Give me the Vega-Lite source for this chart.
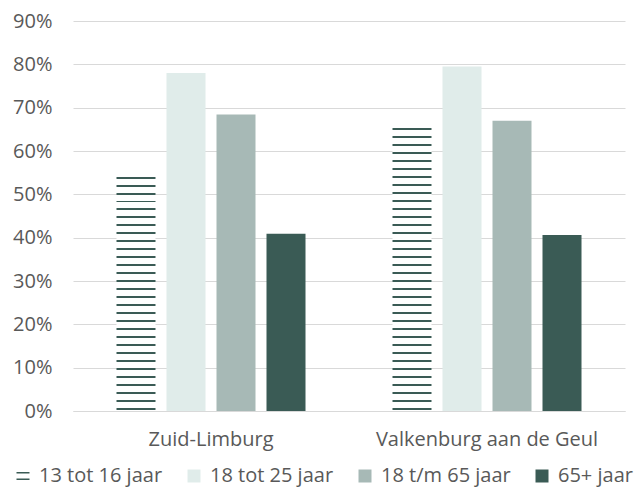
{
  "$schema": "https://vega.github.io/schema/vega-lite/v6.json",
  "width": 552,
  "height": 390,
  "autosize": "none",
  "padding": {"left": 73, "top": 21, "right": 16, "bottom": 82},
  "background": "#ffffff",
  "config": {
    "view": {"stroke": null},
    "font": "Open Sans"
  },
  "data": {
    "values": [
      {"region": "Zuid-Limburg", "age": "13 tot 16 jaar", "value": 0.552},
      {"region": "Zuid-Limburg", "age": "18 tot 25 jaar", "value": 0.780},
      {"region": "Zuid-Limburg", "age": "18 t/m 65 jaar", "value": 0.684},
      {"region": "Zuid-Limburg", "age": "65+ jaar", "value": 0.409},
      {"region": "Valkenburg aan de Geul", "age": "13 tot 16 jaar", "value": 0.663},
      {"region": "Valkenburg aan de Geul", "age": "18 tot 25 jaar", "value": 0.795},
      {"region": "Valkenburg aan de Geul", "age": "18 t/m 65 jaar", "value": 0.670},
      {"region": "Valkenburg aan de Geul", "age": "65+ jaar", "value": 0.406}
    ]
  },
  "mark": {"type": "bar", "strokeWidth": 0},
  "encoding": {
    "x": {
      "field": "region", "type": "nominal",
      "sort": ["Zuid-Limburg", "Valkenburg aan de Geul"],
      "scale": {"paddingInner": 0, "paddingOuter": 0},
      "axis": {
        "title": null, "labelAngle": 0, "ticks": false, "domain": true,
        "domainColor": "#d9d9d9", "domainWidth": 1, "labelLimit": 400,
        "labelFontSize": 20, "labelColor": "#595959", "labelPadding": 18, "labelFont": "Open Sans"
      }
    },
    "xOffset": {
      "field": "age", "type": "nominal",
      "sort": ["13 tot 16 jaar", "18 tot 25 jaar", "18 t/m 65 jaar", "65+ jaar"],
      "scale": {"paddingInner": 0.22, "paddingOuter": 0.87}
    },
    "y": {
      "field": "value", "type": "quantitative",
      "scale": {"domain": [0, 0.9], "nice": false},
      "axis": {
        "title": null, "format": ".0%", "values": [0, 0.1, 0.2, 0.3, 0.4, 0.5, 0.6, 0.7, 0.8, 0.9],
        "ticks": false, "domain": false, "gridColor": "#d9d9d9", "gridWidth": 1,
        "labelFontSize": 20, "labelColor": "#595959", "labelPadding": 21, "labelFont": "Open Sans"
      }
    },
    "fill": {
      "condition": [
        {"test": "datum.age === '13 tot 16 jaar' && datum.region === 'Zuid-Limburg'",
         "value": {"gradient": "linear", "x1": 0, "y1": 0, "x2": 0, "y2": 1, "stops": [
          {"offset": 0, "color": "#ffffff"},
          {"offset": 0.0200, "color": "#ffffff"}, {"offset": 0.0200, "color": "#3a5b55"}, {"offset": 0.0283, "color": "#3a5b55"}, {"offset": 0.0283, "color": "#ffffff"},
          {"offset": 0.0533, "color": "#ffffff"}, {"offset": 0.0533, "color": "#3a5b55"}, {"offset": 0.0617, "color": "#3a5b55"}, {"offset": 0.0617, "color": "#ffffff"},
          {"offset": 0.0867, "color": "#ffffff"}, {"offset": 0.0867, "color": "#3a5b55"}, {"offset": 0.0950, "color": "#3a5b55"}, {"offset": 0.0950, "color": "#ffffff"},
          {"offset": 0.1200, "color": "#ffffff"}, {"offset": 0.1200, "color": "#3a5b55"}, {"offset": 0.1283, "color": "#3a5b55"}, {"offset": 0.1283, "color": "#ffffff"},
          {"offset": 0.1533, "color": "#ffffff"}, {"offset": 0.1533, "color": "#3a5b55"}, {"offset": 0.1617, "color": "#3a5b55"}, {"offset": 0.1617, "color": "#ffffff"},
          {"offset": 0.1867, "color": "#ffffff"}, {"offset": 0.1867, "color": "#3a5b55"}, {"offset": 0.1950, "color": "#3a5b55"}, {"offset": 0.1950, "color": "#ffffff"},
          {"offset": 0.2200, "color": "#ffffff"}, {"offset": 0.2200, "color": "#3a5b55"}, {"offset": 0.2283, "color": "#3a5b55"}, {"offset": 0.2283, "color": "#ffffff"},
          {"offset": 0.2533, "color": "#ffffff"}, {"offset": 0.2533, "color": "#3a5b55"}, {"offset": 0.2617, "color": "#3a5b55"}, {"offset": 0.2617, "color": "#ffffff"},
          {"offset": 0.2867, "color": "#ffffff"}, {"offset": 0.2867, "color": "#3a5b55"}, {"offset": 0.2950, "color": "#3a5b55"}, {"offset": 0.2950, "color": "#ffffff"},
          {"offset": 0.3200, "color": "#ffffff"}, {"offset": 0.3200, "color": "#3a5b55"}, {"offset": 0.3283, "color": "#3a5b55"}, {"offset": 0.3283, "color": "#ffffff"},
          {"offset": 0.3533, "color": "#ffffff"}, {"offset": 0.3533, "color": "#3a5b55"}, {"offset": 0.3617, "color": "#3a5b55"}, {"offset": 0.3617, "color": "#ffffff"},
          {"offset": 0.3867, "color": "#ffffff"}, {"offset": 0.3867, "color": "#3a5b55"}, {"offset": 0.3950, "color": "#3a5b55"}, {"offset": 0.3950, "color": "#ffffff"},
          {"offset": 0.4200, "color": "#ffffff"}, {"offset": 0.4200, "color": "#3a5b55"}, {"offset": 0.4283, "color": "#3a5b55"}, {"offset": 0.4283, "color": "#ffffff"},
          {"offset": 0.4533, "color": "#ffffff"}, {"offset": 0.4533, "color": "#3a5b55"}, {"offset": 0.4617, "color": "#3a5b55"}, {"offset": 0.4617, "color": "#ffffff"},
          {"offset": 0.4867, "color": "#ffffff"}, {"offset": 0.4867, "color": "#3a5b55"}, {"offset": 0.4950, "color": "#3a5b55"}, {"offset": 0.4950, "color": "#ffffff"},
          {"offset": 0.5200, "color": "#ffffff"}, {"offset": 0.5200, "color": "#3a5b55"}, {"offset": 0.5283, "color": "#3a5b55"}, {"offset": 0.5283, "color": "#ffffff"},
          {"offset": 0.5533, "color": "#ffffff"}, {"offset": 0.5533, "color": "#3a5b55"}, {"offset": 0.5617, "color": "#3a5b55"}, {"offset": 0.5617, "color": "#ffffff"},
          {"offset": 0.5867, "color": "#ffffff"}, {"offset": 0.5867, "color": "#3a5b55"}, {"offset": 0.5950, "color": "#3a5b55"}, {"offset": 0.5950, "color": "#ffffff"},
          {"offset": 0.6200, "color": "#ffffff"}, {"offset": 0.6200, "color": "#3a5b55"}, {"offset": 0.6283, "color": "#3a5b55"}, {"offset": 0.6283, "color": "#ffffff"},
          {"offset": 0.6533, "color": "#ffffff"}, {"offset": 0.6533, "color": "#3a5b55"}, {"offset": 0.6617, "color": "#3a5b55"}, {"offset": 0.6617, "color": "#ffffff"},
          {"offset": 0.6867, "color": "#ffffff"}, {"offset": 0.6867, "color": "#3a5b55"}, {"offset": 0.6950, "color": "#3a5b55"}, {"offset": 0.6950, "color": "#ffffff"},
          {"offset": 0.7200, "color": "#ffffff"}, {"offset": 0.7200, "color": "#3a5b55"}, {"offset": 0.7283, "color": "#3a5b55"}, {"offset": 0.7283, "color": "#ffffff"},
          {"offset": 0.7533, "color": "#ffffff"}, {"offset": 0.7533, "color": "#3a5b55"}, {"offset": 0.7617, "color": "#3a5b55"}, {"offset": 0.7617, "color": "#ffffff"},
          {"offset": 0.7867, "color": "#ffffff"}, {"offset": 0.7867, "color": "#3a5b55"}, {"offset": 0.7950, "color": "#3a5b55"}, {"offset": 0.7950, "color": "#ffffff"},
          {"offset": 0.8200, "color": "#ffffff"}, {"offset": 0.8200, "color": "#3a5b55"}, {"offset": 0.8283, "color": "#3a5b55"}, {"offset": 0.8283, "color": "#ffffff"},
          {"offset": 0.8533, "color": "#ffffff"}, {"offset": 0.8533, "color": "#3a5b55"}, {"offset": 0.8617, "color": "#3a5b55"}, {"offset": 0.8617, "color": "#ffffff"},
          {"offset": 0.8867, "color": "#ffffff"}, {"offset": 0.8867, "color": "#3a5b55"}, {"offset": 0.8950, "color": "#3a5b55"}, {"offset": 0.8950, "color": "#ffffff"},
          {"offset": 0.9200, "color": "#ffffff"}, {"offset": 0.9200, "color": "#3a5b55"}, {"offset": 0.9283, "color": "#3a5b55"}, {"offset": 0.9283, "color": "#ffffff"},
          {"offset": 0.9533, "color": "#ffffff"}, {"offset": 0.9533, "color": "#3a5b55"}, {"offset": 0.9617, "color": "#3a5b55"}, {"offset": 0.9617, "color": "#ffffff"},
          {"offset": 0.9867, "color": "#ffffff"}, {"offset": 0.9867, "color": "#3a5b55"}, {"offset": 0.9950, "color": "#3a5b55"}, {"offset": 0.9950, "color": "#ffffff"},
          {"offset": 1, "color": "#ffffff"}
         ]}},
        {"test": "datum.age === '13 tot 16 jaar' && datum.region === 'Valkenburg aan de Geul'",
         "value": {"gradient": "linear", "x1": 0, "y1": 0, "x2": 0, "y2": 1, "stops": [
          {"offset": 0, "color": "#ffffff"},
          {"offset": 0.0167, "color": "#ffffff"}, {"offset": 0.0167, "color": "#3a5b55"}, {"offset": 0.0236, "color": "#3a5b55"}, {"offset": 0.0236, "color": "#ffffff"},
          {"offset": 0.0444, "color": "#ffffff"}, {"offset": 0.0444, "color": "#3a5b55"}, {"offset": 0.0514, "color": "#3a5b55"}, {"offset": 0.0514, "color": "#ffffff"},
          {"offset": 0.0722, "color": "#ffffff"}, {"offset": 0.0722, "color": "#3a5b55"}, {"offset": 0.0792, "color": "#3a5b55"}, {"offset": 0.0792, "color": "#ffffff"},
          {"offset": 0.1000, "color": "#ffffff"}, {"offset": 0.1000, "color": "#3a5b55"}, {"offset": 0.1069, "color": "#3a5b55"}, {"offset": 0.1069, "color": "#ffffff"},
          {"offset": 0.1278, "color": "#ffffff"}, {"offset": 0.1278, "color": "#3a5b55"}, {"offset": 0.1347, "color": "#3a5b55"}, {"offset": 0.1347, "color": "#ffffff"},
          {"offset": 0.1556, "color": "#ffffff"}, {"offset": 0.1556, "color": "#3a5b55"}, {"offset": 0.1625, "color": "#3a5b55"}, {"offset": 0.1625, "color": "#ffffff"},
          {"offset": 0.1833, "color": "#ffffff"}, {"offset": 0.1833, "color": "#3a5b55"}, {"offset": 0.1903, "color": "#3a5b55"}, {"offset": 0.1903, "color": "#ffffff"},
          {"offset": 0.2111, "color": "#ffffff"}, {"offset": 0.2111, "color": "#3a5b55"}, {"offset": 0.2181, "color": "#3a5b55"}, {"offset": 0.2181, "color": "#ffffff"},
          {"offset": 0.2389, "color": "#ffffff"}, {"offset": 0.2389, "color": "#3a5b55"}, {"offset": 0.2458, "color": "#3a5b55"}, {"offset": 0.2458, "color": "#ffffff"},
          {"offset": 0.2667, "color": "#ffffff"}, {"offset": 0.2667, "color": "#3a5b55"}, {"offset": 0.2736, "color": "#3a5b55"}, {"offset": 0.2736, "color": "#ffffff"},
          {"offset": 0.2944, "color": "#ffffff"}, {"offset": 0.2944, "color": "#3a5b55"}, {"offset": 0.3014, "color": "#3a5b55"}, {"offset": 0.3014, "color": "#ffffff"},
          {"offset": 0.3222, "color": "#ffffff"}, {"offset": 0.3222, "color": "#3a5b55"}, {"offset": 0.3292, "color": "#3a5b55"}, {"offset": 0.3292, "color": "#ffffff"},
          {"offset": 0.3500, "color": "#ffffff"}, {"offset": 0.3500, "color": "#3a5b55"}, {"offset": 0.3569, "color": "#3a5b55"}, {"offset": 0.3569, "color": "#ffffff"},
          {"offset": 0.3778, "color": "#ffffff"}, {"offset": 0.3778, "color": "#3a5b55"}, {"offset": 0.3847, "color": "#3a5b55"}, {"offset": 0.3847, "color": "#ffffff"},
          {"offset": 0.4056, "color": "#ffffff"}, {"offset": 0.4056, "color": "#3a5b55"}, {"offset": 0.4125, "color": "#3a5b55"}, {"offset": 0.4125, "color": "#ffffff"},
          {"offset": 0.4333, "color": "#ffffff"}, {"offset": 0.4333, "color": "#3a5b55"}, {"offset": 0.4403, "color": "#3a5b55"}, {"offset": 0.4403, "color": "#ffffff"},
          {"offset": 0.4611, "color": "#ffffff"}, {"offset": 0.4611, "color": "#3a5b55"}, {"offset": 0.4681, "color": "#3a5b55"}, {"offset": 0.4681, "color": "#ffffff"},
          {"offset": 0.4889, "color": "#ffffff"}, {"offset": 0.4889, "color": "#3a5b55"}, {"offset": 0.4958, "color": "#3a5b55"}, {"offset": 0.4958, "color": "#ffffff"},
          {"offset": 0.5167, "color": "#ffffff"}, {"offset": 0.5167, "color": "#3a5b55"}, {"offset": 0.5236, "color": "#3a5b55"}, {"offset": 0.5236, "color": "#ffffff"},
          {"offset": 0.5444, "color": "#ffffff"}, {"offset": 0.5444, "color": "#3a5b55"}, {"offset": 0.5514, "color": "#3a5b55"}, {"offset": 0.5514, "color": "#ffffff"},
          {"offset": 0.5722, "color": "#ffffff"}, {"offset": 0.5722, "color": "#3a5b55"}, {"offset": 0.5792, "color": "#3a5b55"}, {"offset": 0.5792, "color": "#ffffff"},
          {"offset": 0.6000, "color": "#ffffff"}, {"offset": 0.6000, "color": "#3a5b55"}, {"offset": 0.6069, "color": "#3a5b55"}, {"offset": 0.6069, "color": "#ffffff"},
          {"offset": 0.6278, "color": "#ffffff"}, {"offset": 0.6278, "color": "#3a5b55"}, {"offset": 0.6347, "color": "#3a5b55"}, {"offset": 0.6347, "color": "#ffffff"},
          {"offset": 0.6556, "color": "#ffffff"}, {"offset": 0.6556, "color": "#3a5b55"}, {"offset": 0.6625, "color": "#3a5b55"}, {"offset": 0.6625, "color": "#ffffff"},
          {"offset": 0.6833, "color": "#ffffff"}, {"offset": 0.6833, "color": "#3a5b55"}, {"offset": 0.6903, "color": "#3a5b55"}, {"offset": 0.6903, "color": "#ffffff"},
          {"offset": 0.7111, "color": "#ffffff"}, {"offset": 0.7111, "color": "#3a5b55"}, {"offset": 0.7181, "color": "#3a5b55"}, {"offset": 0.7181, "color": "#ffffff"},
          {"offset": 0.7389, "color": "#ffffff"}, {"offset": 0.7389, "color": "#3a5b55"}, {"offset": 0.7458, "color": "#3a5b55"}, {"offset": 0.7458, "color": "#ffffff"},
          {"offset": 0.7667, "color": "#ffffff"}, {"offset": 0.7667, "color": "#3a5b55"}, {"offset": 0.7736, "color": "#3a5b55"}, {"offset": 0.7736, "color": "#ffffff"},
          {"offset": 0.7944, "color": "#ffffff"}, {"offset": 0.7944, "color": "#3a5b55"}, {"offset": 0.8014, "color": "#3a5b55"}, {"offset": 0.8014, "color": "#ffffff"},
          {"offset": 0.8222, "color": "#ffffff"}, {"offset": 0.8222, "color": "#3a5b55"}, {"offset": 0.8292, "color": "#3a5b55"}, {"offset": 0.8292, "color": "#ffffff"},
          {"offset": 0.8500, "color": "#ffffff"}, {"offset": 0.8500, "color": "#3a5b55"}, {"offset": 0.8569, "color": "#3a5b55"}, {"offset": 0.8569, "color": "#ffffff"},
          {"offset": 0.8778, "color": "#ffffff"}, {"offset": 0.8778, "color": "#3a5b55"}, {"offset": 0.8847, "color": "#3a5b55"}, {"offset": 0.8847, "color": "#ffffff"},
          {"offset": 0.9056, "color": "#ffffff"}, {"offset": 0.9056, "color": "#3a5b55"}, {"offset": 0.9125, "color": "#3a5b55"}, {"offset": 0.9125, "color": "#ffffff"},
          {"offset": 0.9333, "color": "#ffffff"}, {"offset": 0.9333, "color": "#3a5b55"}, {"offset": 0.9403, "color": "#3a5b55"}, {"offset": 0.9403, "color": "#ffffff"},
          {"offset": 0.9611, "color": "#ffffff"}, {"offset": 0.9611, "color": "#3a5b55"}, {"offset": 0.9681, "color": "#3a5b55"}, {"offset": 0.9681, "color": "#ffffff"},
          {"offset": 0.9889, "color": "#ffffff"}, {"offset": 0.9889, "color": "#3a5b55"}, {"offset": 0.9958, "color": "#3a5b55"}, {"offset": 0.9958, "color": "#ffffff"},
          {"offset": 1, "color": "#ffffff"}
         ]}}
      ],
      "field": "age", "type": "nominal",
      "sort": ["13 tot 16 jaar", "18 tot 25 jaar", "18 t/m 65 jaar", "65+ jaar"],
      "scale": {
        "domain": ["13 tot 16 jaar", "18 tot 25 jaar", "18 t/m 65 jaar", "65+ jaar"],
        "range": ["#3a5b55", "#e0ecea", "#a7b9b6", "#3a5b55"]
      },
      "legend": {
        "title": null,
        "orient": "none",
        "legendX": -60,
        "legendY": 445,
        "direction": "horizontal",
        "symbolType": "square",
        "symbolSize": 169,
        "symbolStrokeWidth": 0,
        "labelFontSize": 20,
        "labelColor": "#595959",
        "labelFont": "Open Sans",
        "labelOffset": 6,
        "columnPadding": 21,
        "labelLimit": 300,
        "encode": {
          "symbols": {
            "update": {
              "shape": [
                {"test": "datum.value === '13 tot 16 jaar'", "value": "M-1,-0.62H1V-0.38H-1Z M-1,0.38H1V0.62H-1Z"},
                {"value": "square"}
              ]
            }
          }
        }
      }
    }
  }
}
